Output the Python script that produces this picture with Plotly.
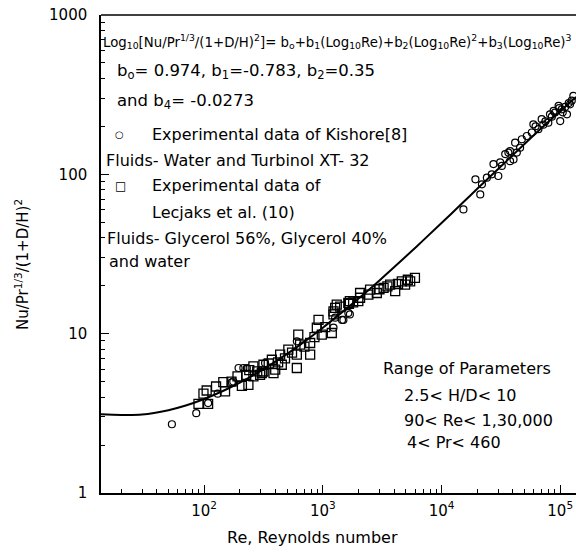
import plotly.graph_objects as go

# ---- data ----
kishore_re = [53.5, 85.8, 108, 130, 171, 176, 195, 214, 229, 326, 604, 1230, 1270, 1450, 1490, 1640, 1690,
              15300, 19300, 21200, 21900, 24100, 26500, 27400, 30100, 31200, 32200, 34400, 36600, 37800, 37800,
              40400, 41700, 43100, 45900, 47500, 52300, 57600, 59400, 62000, 65500, 69800, 72000, 75000, 79400,
              82000, 85000, 88000, 90400, 96900, 98000, 100000, 103000, 105000, 110000, 114000, 118000, 121000,
              125000, 129000]
kishore_y = [2.70, 3.17, 3.67, 4.2, 4.95, 5.01, 6.09, 6.09, 6.09, 6.54, 8.95, 10.9, 12.6, 12.2, 12.2, 13.5, 13.2,
             60.2, 93, 74.8, 86.5, 95.3, 100, 116, 97.6, 119, 113, 134, 137, 121, 140,
             124, 158, 137, 147, 166, 174, 183, 206, 200, 192, 222, 205, 215, 211,
             238, 230, 250, 244, 269, 260, 216, 256, 245, 265, 238, 280, 275,
             290, 311]

lecjaks_re = [89.6, 98.7, 105, 108, 126, 145, 150, 170, 191, 208, 226, 236, 240, 260, 260, 280, 296, 306, 316, 316,
              350, 372, 384, 397, 420, 437, 451, 480, 512, 550, 604, 604, 621, 643, 700, 782, 782, 850, 890, 920,
              980, 1050, 1190, 1230, 1230, 1270, 1310, 1400, 1640, 1660, 1690, 1800, 1990, 2060, 2060, 2420, 2500,
              2850, 3000, 3250, 3500, 3690, 4070, 4300, 4630, 4930, 5200, 5440, 5970]
lecjaks_y = [3.63, 4.2, 4.4, 3.63, 4.66, 4.97, 4.34, 5.0, 5.39, 4.7, 5.52, 4.77, 5.9, 5.39, 6.23, 5.8, 5.52, 5.66,
             5.79, 6.38, 6.5, 6.86, 5.66, 5.94, 6.6, 7.38, 6.38, 7.0, 7.93, 7.6, 6.09, 7.38, 9.86, 8.53, 8.3, 7.38,
             8.74, 9.5, 10.9, 12.2, 9.86, 11.0, 10.1, 13.2, 13.8, 14.5, 15.2, 14.8, 15.6, 15.4, 16.0, 15.7, 16.0,
             16.8, 18.0, 17.6, 18.9, 18.0, 19.0, 19.4, 19.8, 20.3, 18.5, 20.5, 21.3, 20.3, 21.8, 21.3, 22.4]

fit_re = [13.5, 20, 30, 50, 70, 100, 150, 200, 300, 500, 700, 1000, 1500, 2000, 3000, 5000, 7000,
          10000, 15000, 20000, 30000, 50000, 70000, 100000, 136000]
fit_y = [3.12, 3.09, 3.11, 3.31, 3.54, 3.89, 4.43, 4.93, 5.85, 7.47, 8.92, 10.9, 13.9, 16.6, 21.6, 30.5, 38.5,
         49.5, 66.0, 81.1, 108, 155, 196, 249, 306]

x_tickvals = [100, 1000, 10000, 100000]
x_ticktext = ["10<sup>2</sup>", "10<sup>3</sup>", "10<sup>4</sup>", "10<sup>5</sup>"]
y_tickvals = [1, 10, 100, 1000]
y_ticktext = ["1", "10", "100", "1000"]

FONT = "DejaVu Sans, Liberation Sans, sans-serif"

fig = go.Figure()
fig.add_trace(go.Scatter(x=lecjaks_re, y=lecjaks_y, mode="markers",
                         marker=dict(symbol="square-open", size=9, color="black", line=dict(width=1.3)),
                         showlegend=False))
fig.add_trace(go.Scatter(x=kishore_re, y=kishore_y, mode="markers",
                         marker=dict(symbol="circle-open", size=7, color="black", line=dict(width=1.2)),
                         showlegend=False))
fig.add_trace(go.Scatter(x=fit_re, y=fit_y, mode="lines", line=dict(color="black", width=2, shape="spline"),
                         showlegend=False))

minor_vals = [m * 10 ** d for d in range(0, 6) for m in range(2, 10)]

fig.update_xaxes(type="log", range=[1.131, 5.133], showline=True, linecolor="black", linewidth=1.5,
                 mirror=False, ticks="inside", ticklen=8, tickwidth=1.2, tickcolor="black",
                 tickvals=x_tickvals, ticktext=x_ticktext, showgrid=False, zeroline=False,
                 tickfont=dict(family=FONT, size=15, color="black"), ticklabelstandoff=3,
                 minor=dict(tickvals=minor_vals, ticks="inside", ticklen=4, tickwidth=1.2, tickcolor="black",
                            showgrid=False))
fig.update_yaxes(type="log", range=[0, 3], showline=True, linecolor="black", linewidth=1.5,
                 ticks="inside", ticklen=8, tickwidth=1.2, tickcolor="black",
                 tickvals=y_tickvals, ticktext=y_ticktext, showgrid=False, zeroline=False,
                 tickfont=dict(family=FONT, size=15, color="black"), ticklabelstandoff=9,
                 minor=dict(tickvals=minor_vals, ticks="inside", ticklen=4, tickwidth=1.2, tickcolor="black",
                            showgrid=False))

# top border line
fig.add_shape(type="line", xref="paper", yref="paper", x0=0, x1=1, y0=1, y1=1,
              line=dict(color="black", width=1.5))

L, W, T, H = 101, 475, 15, 478


def px(x):
    return (x - L) / W


def py(y):
    return (T + H - y) / H


def note(x, y, text, size=16, anchor="left", angle=0):
    fig.add_annotation(xref="paper", yref="paper", x=px(x), y=py(y), text=text, showarrow=False,
                       xanchor=anchor, yanchor="middle", textangle=angle,
                       font=dict(family=FONT, size=size, color="black"))


note(101, 42, "Log<sub>10</sub>[Nu/Pr<sup>1/3</sup>/(1+D/H)<sup>2</sup>]= b<sub>o</sub>+b<sub>1</sub>(Log<sub>10</sub>Re)"
              "+b<sub>2</sub>(Log<sub>10</sub>Re)<sup>2</sup>+b<sub>3</sub>(Log<sub>10</sub>Re)<sup>3</sup>", size=13.3)
note(115, 72, "b<sub>o</sub>= 0.974, b<sub>1</sub>=-0.783, b<sub>2</sub>=0.35", size=16.5)
note(115, 102, "and b<sub>4</sub>= -0.0273", size=16.5)
note(113, 134, "○", size=10)
note(150, 134, "Experimental data of Kishore[8]", size=16)
note(104, 160, "Fluids- Water and Turbinol XT- 32", size=16)
note(113, 186, "□", size=12)
note(150, 186, "Experimental data of", size=16)
note(150, 212, "Lecjaks et al. (10)", size=16)
note(105, 238, "Fluids- Glycerol 56%, Glycerol 40%", size=16)
note(107, 261, "and water", size=16)

note(381, 368, "Range of Parameters", size=16)
note(402, 395, "2.5< H/D< 10", size=16)
note(402, 420, "90< Re< 1,30,000", size=16)
note(405, 442, "4< Pr< 460", size=16)

note(312, 537, "Re, Reynolds number", size=16, anchor="center")
note(22, 265, "Nu/Pr<sup>1/3</sup>/(1+D/H)<sup>2</sup>", size=15, anchor="center", angle=-90)

fig.update_layout(width=576, height=553, margin=dict(l=L, r=0, t=T, b=553 - T - H),
                  paper_bgcolor="white", plot_bgcolor="white", showlegend=False)

fig.write_html("out.html")
